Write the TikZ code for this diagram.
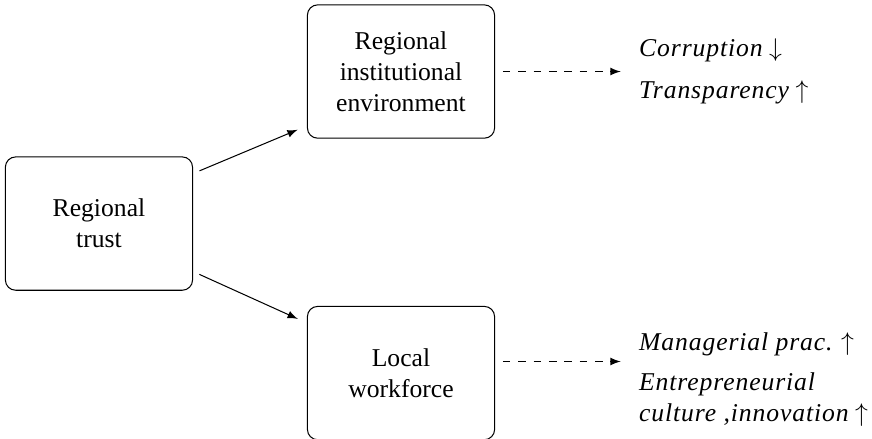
\documentclass[tikz,border=0pt]{standalone}
\usepackage{fontspec}
\setmainfont{Liberation Serif}
\usetikzlibrary{positioning}

\newfontfamily\fxfont[LetterSpace=3.5]{Liberation Serif}
\newcommand{\fx}[1]{{\fxfont\itshape #1}}

\tikzset{
  block/.style={draw, rounded corners=4pt, minimum width=73pt, minimum height=52pt, align=center},
  effect/.style={align=left, inner sep=0pt}
}

\begin{document}
\begin{tikzpicture}[>=latex, node distance=2cm, on grid]
            \useasboundingbox (-38.6pt,-84pt) rectangle (301.5pt,87.2pt);
            \node[block](trust){Regional\\trust};
            \node[block, above right=59.3pt and 117.8pt of trust](inst){Regional\\institutional\\environment};
            \node[block, below right=58.3pt and 117.8pt of trust](work){Local\\workforce};
            % outcomes
            \node[effect, right=56pt of inst.east, anchor=west](instfx){\fx{Corruption} $\downarrow$\\[4.5pt]\fx{Transparency} $\uparrow$};
            \node[effect, right=56pt of work.east, anchor=west, yshift=-2.5pt](workfx){\fx{Managerial prac.} $\uparrow$\\[3.5pt]\fx{Entrepreneurial}\\\fx{culture ,innovation} $\uparrow$};
            \path[->, shorten <=2.7pt, shorten >=3.9pt]
            (trust.28) edge (inst.210)
            (trust.333) edge (work.152);
            \path[->, dashed, shorten <=3pt, shorten >=7pt]
            (inst.east) edge (instfx.west)
            (work.7) edge (work.7 -| workfx.west);
        \end{tikzpicture}
\end{document}
